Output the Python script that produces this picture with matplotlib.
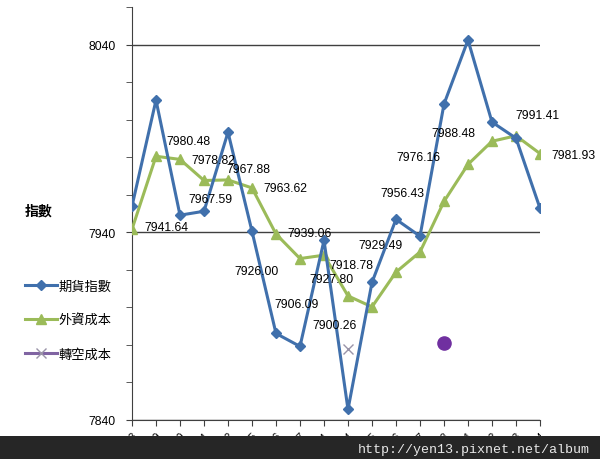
import matplotlib
matplotlib.use("Agg")
import matplotlib.pyplot as plt
from matplotlib.patches import Rectangle

plt.rcParams['font.family'] = ['Liberation Sans', 'Noto Sans CJK TC', 'DejaVu Sans']

dates = ["2/18", "2/19", "2/20", "2/21", "2/22", "2/25", "2/26", "2/27", "3/1",
         "3/4", "3/5", "3/6", "3/7", "3/8", "3/11", "3/12", "3/13", "3/14"]
futures = [7953.9, 8010.4, 7949.1, 7951.2, 7993.3, 7940.5, 7886.1, 7879.2, 7935.7,
           7845.6, 7913.3, 7946.9, 7937.9, 8008.3, 8042.4, 7998.7, 7990.1, 7952.8]
foreign_cost = [7941.64, 7980.48, 7978.82, 7967.59, 7967.88, 7963.62, 7939.06, 7926.00, 7927.80,
                7906.09, 7900.26, 7918.78, 7929.49, 7956.43, 7976.16, 7988.48, 7991.41, 7981.93]
short_cost_idx = [9]
short_cost = [7877.6]
dot_idx = [13]
dot_val = [7880.8]
series_names = ["期貨指數", "外資成本", "轉空成本"]
yticks_major = [7840, 7940, 8040]

# label offsets in pixels (dx, dy up)
label_offsets = [(34, 2), (32, 15), (33, -1), (6, -19), (20, 11), (33, 0), (34, 1),
                 (-43, -12), (7, -24), (-51, -8), (-37, -18), (-45, 7), (-39, 7),
                 (-42, 8), (-50, 7), (-39, 8), (21, 21), (33, -1)]

fig = plt.figure(figsize=(6, 4.6), dpi=100)
ax = fig.add_axes([132/600, 1-421/460, (540-132)/600, (421-8)/460])

x = list(range(len(dates)))
blue = '#4070AC'
green = '#9BBB59'
l1, = ax.plot(x, futures, color=blue, lw=2.2, marker='D', ms=5, zorder=4, label=series_names[0])
l2, = ax.plot(x, foreign_cost, color=green, lw=2.2, marker='^', ms=6.5, zorder=3, label=series_names[1])
l3, = ax.plot(short_cost_idx, short_cost, color='#8064A2', lw=2.2, marker='x', ms=7,
              markeredgecolor='#9A94A8', markeredgewidth=1.0, linestyle='-', zorder=3,
              label=series_names[2])
ax.scatter(dot_idx, dot_val, s=90, color='#7030A0', zorder=5)

for xi, v, (dx, dy) in zip(x, foreign_cost, label_offsets):
    ax.annotate(f"{v:.2f}", (xi, v), xytext=(dx, dy), textcoords='offset pixels',
                ha='center', va='center', fontsize=8.7, color='black', zorder=6)

ax.set_xlim(0, len(dates) - 1)
ax.set_ylim(7840, 8060)
ax.set_yticks(yticks_major)
ax.set_yticks(list(range(7840, 8061, 20)), minor=True)
ax.yaxis.grid(True, which='major', color='#404040', lw=1)
ax.set_axisbelow(True)
ax.tick_params(axis='y', which='both', direction='out', length=4, color='#404040',
               labelsize=8.7, pad=8)
ax.set_xticks(x)
ax.set_xticklabels(dates, rotation=45, ha='right', rotation_mode='anchor', fontsize=7.5)
ax.tick_params(axis='x', length=4, color='#404040', pad=3)
for s in ['top', 'right']:
    ax.spines[s].set_visible(False)
for s in ['left', 'bottom']:
    ax.spines[s].set_color('#404040')

fig.text(25/600, 1-212/460, "指數", fontsize=10, fontweight='bold', va='center', ha='left')

fig.legend(handles=[l1, l2, l3], loc='upper left', bbox_to_anchor=(20/600, 1-276/460),
           frameon=False, fontsize=9.5, handlelength=2.4, handletextpad=0.15,
           labelspacing=1.6, borderaxespad=0)

band = Rectangle((0, 0), 1, 23/460, transform=fig.transFigure, facecolor='#262626',
                 edgecolor='none', zorder=10)
fig.patches.append(band)
fig.text(590/600, 1-450/460, "http://yen13.pixnet.net/album", family='Liberation Mono',
         fontsize=9.6, color='#e8e8e8', ha='right', va='center', zorder=11)

fig.savefig("out.png", dpi=100)
